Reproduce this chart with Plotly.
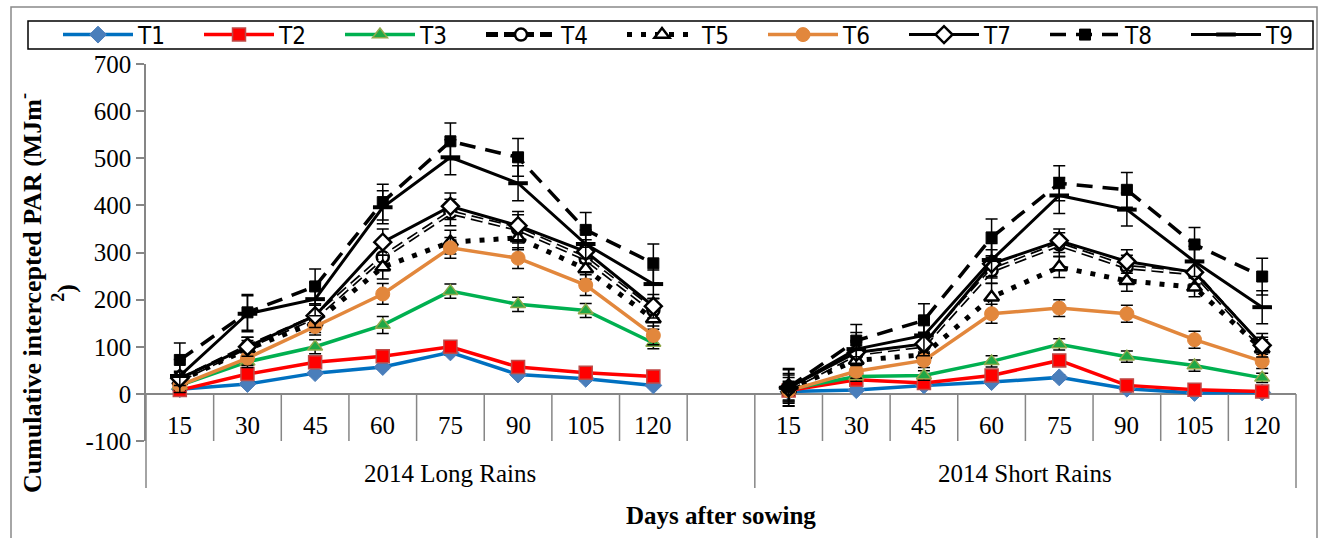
import plotly.graph_objects as go

# ---------------- data ----------------
seasons = ["2014 Long Rains", "2014 Short Rains"]
days = [15, 30, 45, 60, 75, 90, 105, 120]
series_names = ["T1", "T2", "T3", "T4", "T5", "T6", "T7", "T8", "T9"]

# Long rains values
lr_T1 = [10, 21, 44, 57, 88, 41, 32, 18]
lr_T2 = [8, 42, 67, 80, 100, 57, 45, 37]
lr_T3 = [18, 68, 100, 146, 218, 190, 177, 108]
lr_T4 = [30, 100, 163, 290, 385, 350, 287, 177]
lr_T5 = [28, 95, 152, 269, 322, 331, 265, 159]
lr_T6 = [18, 76, 143, 212, 310, 288, 231, 124]
lr_T7 = [33, 100, 166, 322, 398, 357, 302, 186]
lr_T8 = [72, 173, 228, 407, 536, 502, 348, 277]
lr_T9 = [38, 170, 201, 396, 502, 447, 318, 233]

# Short rains values
sr_T1 = [5, 8, 18, 25, 35, 11, 2, 3]
sr_T2 = [7, 30, 23, 39, 71, 18, 9, 5]
sr_T3 = [10, 37, 39, 69, 105, 79, 60, 34]
sr_T4 = [10, 85, 103, 262, 317, 269, 256, 98]
sr_T5 = [10, 71, 83, 205, 269, 240, 226, 95]
sr_T6 = [7, 48, 71, 170, 182, 170, 115, 69]
sr_T7 = [13, 88, 106, 276, 325, 281, 258, 103]
sr_T8 = [14, 113, 156, 332, 447, 433, 317, 249]
sr_T9 = [13, 95, 124, 284, 421, 391, 281, 184]

# Error bars (standard errors)
lr_err_T1 = [3, 4, 5, 5, 6, 4, 4, 3]
lr_err_T2 = [4, 6, 7, 8, 8, 6, 6, 5]
lr_err_T3 = [8, 12, 15, 18, 15, 15, 15, 12]
lr_err_T4 = [15, 20, 25, 28, 28, 30, 25, 25]
lr_err_T5 = [12, 18, 22, 25, 25, 25, 22, 22]
lr_err_T6 = [10, 15, 18, 22, 22, 22, 22, 20]
lr_err_T7 = [15, 20, 25, 28, 28, 30, 25, 25]
lr_err_T8 = [36, 38, 37, 38, 39, 40, 37, 41]
lr_err_T9 = [35, 38, 35, 35, 37, 37, 30, 30]

sr_err_T1 = [3, 3, 4, 4, 5, 3, 2, 2]
sr_err_T2 = [4, 5, 5, 6, 7, 5, 4, 3]
sr_err_T3 = [12, 10, 10, 12, 12, 12, 12, 10]
sr_err_T4 = [30, 25, 25, 28, 25, 25, 25, 22]
sr_err_T5 = [25, 20, 20, 30, 22, 22, 20, 20]
sr_err_T6 = [20, 15, 15, 20, 18, 18, 18, 15]
sr_err_T7 = [30, 25, 25, 30, 25, 25, 25, 25]
sr_err_T8 = [40, 34, 35, 39, 37, 37, 36, 39]
sr_err_T9 = [38, 35, 35, 35, 38, 35, 32, 35]

y_ticks = [-100, 0, 100, 200, 300, 400, 500, 600, 700]
y_tick_labels = ["-100", "0", "100", "200", "300", "400", "500", "600", "700"]

lr_vals = [lr_T1, lr_T2, lr_T3, lr_T4, lr_T5, lr_T6, lr_T7, lr_T8, lr_T9]
sr_vals = [sr_T1, sr_T2, sr_T3, sr_T4, sr_T5, sr_T6, sr_T7, sr_T8, sr_T9]
lr_errs = [lr_err_T1, lr_err_T2, lr_err_T3, lr_err_T4, lr_err_T5, lr_err_T6, lr_err_T7, lr_err_T8, lr_err_T9]
sr_errs = [sr_err_T1, sr_err_T2, sr_err_T3, sr_err_T4, sr_err_T5, sr_err_T6, sr_err_T7, sr_err_T8, sr_err_T9]

# ---------------- styles ----------------
styles = {
    "T1": dict(line=dict(color="#0070C0", width=3.5),
               marker=dict(symbol="diamond", size=13, color="#4A7EBB", line=dict(color="#4A7EBB", width=1))),
    "T2": dict(line=dict(color="#FF0000", width=3.5),
               marker=dict(symbol="square", size=13, color="#FF0000", line=dict(color="#BE4B48", width=1.5))),
    "T3": dict(line=dict(color="#00B050", width=3.5),
               marker=dict(symbol="triangle-up", size=13, color="#1FA846", line=dict(color="#8FA84B", width=1.5))),
    "T4": dict(line=dict(color="black", width=5, dash="12px,6px"),
               marker=dict(symbol="circle", size=12, color="white", line=dict(color="black", width=2.5))),
    "T5": dict(line=dict(color="black", width=5, dash="5px,9px"),
               marker=dict(symbol="triangle-up", size=13, color="white", line=dict(color="black", width=2.5))),
    "T6": dict(line=dict(color="#E2873C", width=3.5),
               marker=dict(symbol="circle", size=14, color="#E2873C", line=dict(color="#E2873C", width=1))),
    "T7": dict(line=dict(color="black", width=3),
               marker=dict(symbol="diamond", size=13, color="white", line=dict(color="black", width=2.5))),
    "T8": dict(line=dict(color="black", width=3.5, dash="16px,10px"),
               marker=dict(symbol="square", size=11, color="black", line=dict(color="black", width=1))),
    "T9": dict(line=dict(color="black", width=3),
               marker=dict(symbol="line-ew", size=14, color="black", line=dict(color="black", width=4))),
}

n_slots = len(days) + 1
x_range = [-0.5, len(seasons) * n_slots - 1 - 0.5]
PLOT_W, PLOT_H, ML, MT = 1150, 377, 146, 64


def pos(si, di):
    return si * n_slots + di


def xp(p):
    return (p - x_range[0]) / (x_range[1] - x_range[0])


def px_x(px):  # figure pixel -> paper x
    return (px - ML) / PLOT_W


def px_y(py):  # figure pixel -> paper y
    return (MT + PLOT_H - py) / PLOT_H


fig = go.Figure()
for k, name in enumerate(series_names):
    xs, ys, es = [], [], []
    for si, vals, errs in [(0, lr_vals[k], lr_errs[k]), (1, sr_vals[k], sr_errs[k])]:
        for di in range(len(days)):
            xs.append(pos(si, di))
            ys.append(vals[di])
            es.append(errs[di])
        if si == 0:
            xs.append(None)
            ys.append(None)
            es.append(0)
    st = styles[name]
    fig.add_trace(go.Scatter(
        x=xs, y=ys, name=name, mode="lines+markers",
        line=st["line"], marker=st["marker"],
        error_y=dict(type="data", array=es, visible=True, color="black", thickness=1.5, width=6),
        cliponaxis=False,
    ))
    if name == "T4":
        fig.add_trace(go.Scatter(
            x=xs, y=ys, name=name, mode="lines", showlegend=False, hoverinfo="skip",
            line=dict(color="white", width=1.6, dash="12px,6px"),
        ))

axis_gray = "#868686"
serif = "Liberation Serif, Times New Roman, serif"

shapes = []
# inner category boundary ticks (from 0 down to -100)
for si in range(len(seasons)):
    for di in range(len(days) - 1):
        b = pos(si, di) + 0.5
        shapes.append(dict(type="line", xref="x", yref="y", x0=b, x1=b, y0=0, y1=y_ticks[0],
                           line=dict(color=axis_gray, width=1.5)))
b = pos(0, len(days) - 1) + 0.5
shapes.append(dict(type="line", xref="x", yref="y", x0=b, x1=b, y0=0, y1=y_ticks[0],
                   line=dict(color=axis_gray, width=1.5)))
# group dividers
ymin, ymax = y_ticks[0], y_ticks[-1]
y0_paper = (0 - ymin) / (ymax - ymin)
for si in range(len(seasons) + 1):
    p = si * n_slots - 0.5
    if si == len(seasons):
        p = x_range[1]
    shapes.append(dict(type="line", xref="paper", yref="paper", x0=xp(p), x1=xp(p),
                       y0=y0_paper, y1=px_y(488), line=dict(color=axis_gray, width=1.5)))
# outer chart border
shapes.append(dict(type="rect", xref="paper", yref="paper", x0=px_x(11), x1=px_x(1317), y0=px_y(7),
                   y1=px_y(560), line=dict(color="#898989", width=1.5), fillcolor="rgba(0,0,0,0)"))
# legend frame
shapes.append(dict(type="rect", xref="paper", yref="paper", x0=px_x(28), x1=px_x(1313), y0=px_y(21),
                   y1=px_y(49), line=dict(color="black", width=1.5), fillcolor="rgba(0,0,0,0)"))

annotations = []
for si in range(len(seasons)):
    for di, d in enumerate(days):
        annotations.append(dict(x=pos(si, di), y=-67, xref="x", yref="y", text=str(d), showarrow=False,
                                font=dict(family=serif, size=25, color="black"), yanchor="middle"))
    left = si * n_slots - 0.5
    right = (si + 1) * n_slots - 0.5 if si == 0 else x_range[1]
    annotations.append(dict(x=(left + right) / 2, y=px_y(473), xref="x", yref="paper", text=seasons[si],
                            showarrow=False, font=dict(family=serif, size=25, color="black"),
                            yanchor="middle"))
annotations.append(dict(x=0.5, y=px_y(515), xref="paper", yref="paper", text="<b>Days after sowing</b>",
                        showarrow=False, font=dict(family=serif, size=25, color="black"), yanchor="middle"))
annotations.append(dict(x=px_x(47), y=px_y(293), xref="paper", yref="paper", textangle=-90,
                        text="<b>Cumulative intercepted PAR (MJm<sup>-</sup><br><sup>2</sup>)</b>",
                        showarrow=False, font=dict(family=serif, size=26, color="black"),
                        xanchor="center", yanchor="middle"))

fig.update_layout(
    width=1327, height=538,
    margin=dict(l=ML, r=1327 - ML - PLOT_W, t=MT, b=538 - MT - PLOT_H),
    paper_bgcolor="white", plot_bgcolor="white",
    showlegend=True,
    legend=dict(orientation="h", x=px_x(61), y=px_y(35), xanchor="left", yanchor="middle",
                borderwidth=0, bgcolor="rgba(0,0,0,0)",
                font=dict(family="Liberation Sans Narrow, DejaVu Sans Condensed, sans-serif", size=24,
                          color="black"),
                entrywidth=56, entrywidthmode="pixels", itemwidth=70, traceorder="normal"),
    xaxis=dict(range=x_range, showticklabels=False, showgrid=False, zeroline=False, showline=False,
               ticks=""),
    yaxis=dict(range=[ymin, ymax], tickvals=y_ticks, ticktext=y_tick_labels, showgrid=False, zeroline=True,
               zerolinecolor=axis_gray, zerolinewidth=1.5, showline=True, linecolor=axis_gray,
               linewidth=1.5, ticks="outside", ticklen=8, tickcolor=axis_gray, tickwidth=1.5,
               tickfont=dict(family=serif, size=25, color="black")),
    shapes=shapes,
    annotations=annotations,
)

fig.write_html("out.html")
